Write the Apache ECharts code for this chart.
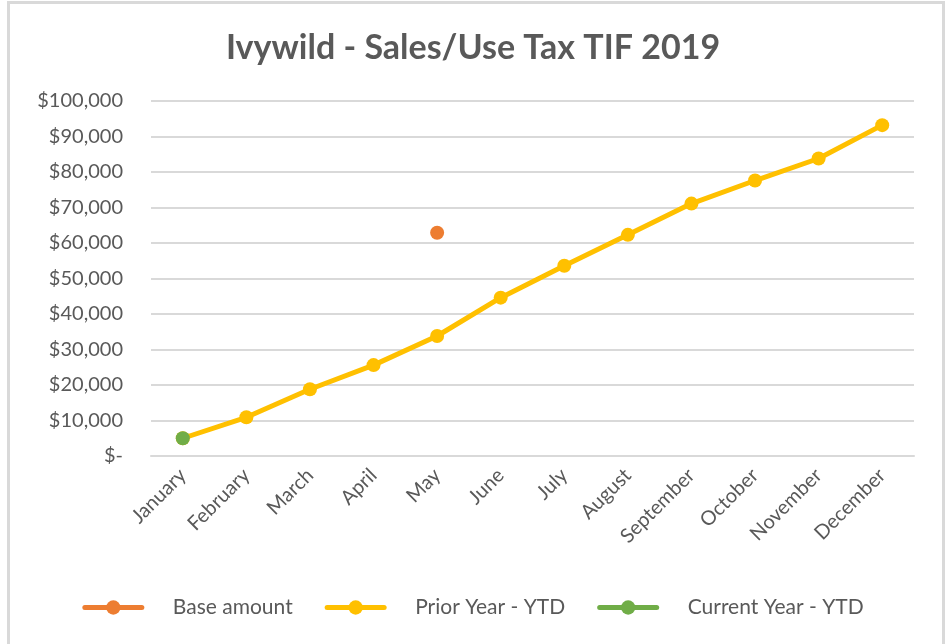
<!DOCTYPE html>
<html lang="en">
<head>
    <meta charset="UTF-8">
    <title>Ivywild - Sales/Use Tax TIF 2019</title>
    <script src="https://cdn.jsdelivr.net/npm/echarts@6/dist/echarts.min.js"></script>
    <style>
        html, body {
            margin: 0;
            height: 100%;
            background: #fff;
        }
    </style>
</head>
<body>
<!--chart container-->
<div id="main" style="width: 946px;height: 644px;"></div>
<script>
    // data
    var months = ['January', 'February', 'March', 'April', 'May', 'June',
        'July', 'August', 'September', 'October', 'November', 'December'];
    var baseAmount = [null, null, null, null, 62900, null, null, null, null, null, null, null];
    var priorYearYTD = [5000, 10900, 18800, 25600, 33800, 44600, 53600, 62300, 71100, 77600, 83800, 93200];
    var currentYearYTD = [5000, null, null, null, null, null, null, null, null, null, null, null];
    var yTicks = {min: 0, max: 100000, interval: 10000};

    var txt = '#595959';
    var font = 'Lato, "Open Sans", sans-serif';

    var myChart = echarts.init(document.getElementById('main'));

    function money(v) {
        if (v === 0) return '$-';
        return '$' + v.toLocaleString('en-US');
    }

    var option = {
        backgroundColor: '#fff',
        animation: false,
        textStyle: {fontFamily: font},
        title: {
            text: 'Ivywild - Sales/Use Tax TIF 2019',
            left: 'center',
            top: 26,
            textStyle: {color: txt, fontSize: 34, fontWeight: 'bold', fontFamily: font}
        },
        graphic: [
            {
                type: 'polyline',
                silent: true,
                shape: {points: [[8.5, 644], [8.5, 2.5], [943.5, 2.5], [943.5, 644]]},
                style: {stroke: '#d9d9d9', lineWidth: 3, fill: null}
            }
        ],
        grid: {left: 151, right: 32, top: 101, bottom: 188, containLabel: false},
        legend: {
            bottom: 21,
            left: 'center',
            itemWidth: 57,
            itemHeight: 18,
            itemGap: 32,
            lineStyle: {width: 5, cap: 'round'},
            textStyle: {color: txt, fontSize: 21, padding: [0, 0, 0, 26]},
            data: ['Base amount', 'Prior Year - YTD', 'Current Year - YTD']
        },
        xAxis: {
            type: 'category',
            data: months,
            boundaryGap: true,
            axisLine: {lineStyle: {color: '#d9d9d9', width: 2}},
            axisTick: {show: false},
            axisLabel: {rotate: 45, color: txt, fontSize: 20, margin: 16, interval: 0}
        },
        yAxis: {
            type: 'value',
            min: yTicks.min,
            max: yTicks.max,
            interval: yTicks.interval,
            axisLine: {show: false},
            axisTick: {show: false},
            splitLine: {lineStyle: {color: '#d9d9d9', width: 2}},
            axisLabel: {color: txt, fontSize: 20, margin: 28, formatter: money}
        },
        series: [
            {
                name: 'Base amount',
                type: 'line',
                data: baseAmount,
                symbol: 'circle',
                symbolSize: 14,
                itemStyle: {color: '#ED7D31'},
                lineStyle: {width: 5, color: '#ED7D31'},
                z: 3
            },
            {
                name: 'Prior Year - YTD',
                type: 'line',
                data: priorYearYTD,
                symbol: 'circle',
                symbolSize: 14,
                itemStyle: {color: '#FFC000'},
                lineStyle: {width: 5, color: '#FFC000'},
                z: 2
            },
            {
                name: 'Current Year - YTD',
                type: 'line',
                data: currentYearYTD,
                symbol: 'circle',
                symbolSize: 14,
                itemStyle: {color: '#70AD47'},
                lineStyle: {width: 5, color: '#70AD47'},
                z: 4
            }
        ]
    };
    myChart.setOption(option);
</script>
</body>
</html>
